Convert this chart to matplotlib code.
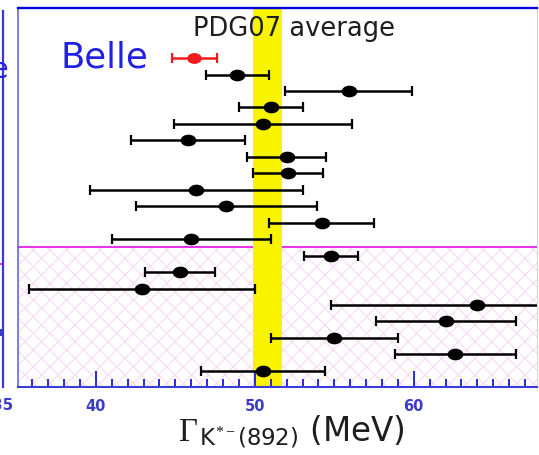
import numpy as np
import matplotlib
matplotlib.use("Agg")
import matplotlib.pyplot as plt
from matplotlib.markers import MarkerStyle
from matplotlib.transforms import Affine2D

# K*(892)- width measurements (MeV), top row is Belle
widths = [46.2, 48.9, 55.9, 51.0, 50.5, 45.8, 52.0, 52.1, 46.3, 48.2,
          54.2, 46.0, 54.8, 45.3, 42.9, 64.0, 62.0, 55.0, 62.6, 50.5]
errors = [1.4, 2.0, 4.0, 2.0, 5.6, 3.6, 2.5, 2.2, 6.7, 5.7,
          3.3, 5.0, 1.7, 2.2, 7.1, 9.2, 4.4, 4.0, 3.8, 3.9]
pdg_mean = 50.8
pdg_err = 0.9
n_upper = 12          # rows above the separator line
xticks_major = [40, 50, 60]
xticks_minor = np.arange(36, 68, 1)

BLUE = "#2a2ad8"
TICK_BLUE = "#3c3cc8"
MAGENTA = "#e81ee8"
HATCH_PINK = "#f6d6f2"

plt.rcParams["hatch.linewidth"] = 0.7
plt.rcParams["mathtext.fontset"] = "custom"
plt.rcParams["mathtext.rm"] = "Liberation Serif"
plt.rcParams["mathtext.it"] = "Liberation Serif:italic"
plt.rcParams["mathtext.sf"] = "DejaVu Sans"

W, H, DPI = 539, 456, 100
fig = plt.figure(figsize=(W / DPI, H / DPI), dpi=DPI)

left, right, bottom, top = 18, 537, 388, 9
ax = fig.add_axes([left / W, (H - bottom) / H, (right - left) / W, (bottom - top) / H])

rows = np.arange(len(widths))
ax.set_xlim(35.1, 67.75)
ax.set_ylim(19.98, -3.04)

# hatched region for the lower group
sep = n_upper - 0.5
ax.axhspan(sep, 19.98, facecolor="none", edgecolor=HATCH_PINK, hatch="xx",
           linewidth=0, zorder=0)
ax.axhline(sep, color=MAGENTA, lw=1.3, zorder=1)

# PDG average band
ax.axvspan(pdg_mean - pdg_err, pdg_mean + pdg_err, color="#f8f400", lw=0, zorder=1)
ax.text(52.45, -1.39, "PDG07 average", ha="center", va="baseline",
        fontsize=18.5, color="#1e1e1e", zorder=5)

ell = MarkerStyle("o", transform=Affine2D().scale(1.35, 1.0))

# black measurements
ax.errorbar(widths[1:], rows[1:], xerr=errors[1:], fmt="none", ecolor="black",
            elinewidth=1.8, capsize=3.8, capthick=1.6, zorder=3)
ax.plot(widths[1:], rows[1:], linestyle="none", marker=ell, ms=8.4,
        color="black", mew=0, zorder=4)

# Belle
ax.errorbar(widths[:1], rows[:1], xerr=errors[:1], fmt="none", ecolor="#ee1c1c",
            elinewidth=1.8, capsize=3.8, capthick=1.6, zorder=3)
ax.plot(widths[:1], rows[:1], linestyle="none", marker=ell, ms=7.8,
        color="#ee1c1c", mew=0, zorder=4)
ax.text(37.75, 0.54, "Belle", ha="left", va="baseline", fontsize=25.5,
        color="#2020e6", zorder=5)

# axes styling
ax.spines["top"].set_color("#0000e0")
ax.spines["top"].set_linewidth(1.7)
ax.spines["left"].set_color("#5a5ae6")
ax.spines["left"].set_linewidth(1.1)
ax.spines["bottom"].set_color("#3c3cd8")
ax.spines["bottom"].set_linewidth(1.5)
ax.spines["right"].set_color("#d0d0f4")
ax.spines["right"].set_linewidth(0.8)
for s in ax.spines.values():
    s.set_zorder(6)

ax.set_yticks([])
ax.set_xticks(xticks_major)
ax.set_xticks(xticks_minor, minor=True)
ax.tick_params(axis="x", which="major", direction="in", length=11.5, width=1.4,
               color=BLUE, pad=8, labelsize=10.5, labelcolor=TICK_BLUE)
ax.tick_params(axis="x", which="minor", direction="in", length=5.8, width=1.4,
               color=BLUE)
for lab in ax.get_xticklabels():
    lab.set_fontweight("bold")

ax.set_xlabel(r"$\Gamma_{\,\mathsf{K}^{*-}\mathsf{(892)}}$ (MeV)", fontsize=23.5,
              color="#1e1e1e", labelpad=-1)
ax.xaxis.label.set_x(0.527)

# neighbouring panel on the left, only its edge shows
axl = fig.add_axes([-0.3, (H - bottom) / H, 0.3 + 3 / W, (bottom - top - 3) / H])
axl.set_xlim(20, 35)
axl.set_ylim(19.98, -3.04)
axl.axhline(12.46, color=MAGENTA, lw=1.3)
axl.axhline(16.6, xmin=0.99, xmax=1.0, color="#3a3ad0", lw=5)
for side in ("left", "top", "bottom"):
    axl.spines[side].set_visible(False)
axl.spines["right"].set_color("#3a3ad0")
axl.spines["right"].set_linewidth(1.6)
axl.set_xticks([])
axl.set_yticks([])
fig.text(3 / W, (H - 410) / H, "35", ha="center", va="baseline",
         fontsize=11, fontweight="bold", color=TICK_BLUE)
fig.text(9 / W, (H - 78) / H, "Belle", ha="right", va="baseline",
         fontsize=20, color="#2020e6")

fig.savefig("out.png", dpi=DPI, facecolor="white")
